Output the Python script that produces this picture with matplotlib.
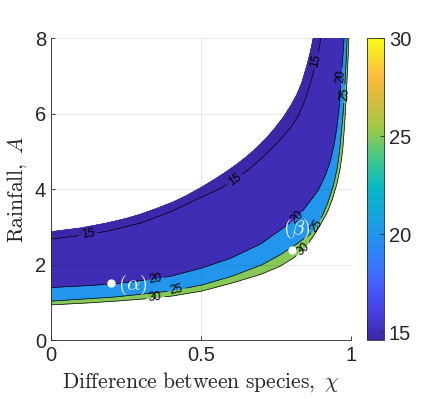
import numpy as np
import matplotlib
matplotlib.use("Agg")
import matplotlib.pyplot as plt
from matplotlib.colors import LinearSegmentedColormap, Normalize
from matplotlib.cm import ScalarMappable

# ---------------- data ----------------
# upper edge of the defined region
top_chi = [0.0, 0.10, 0.186, 0.25, 0.297, 0.35, 0.408, 0.45, 0.502, 0.55, 0.586, 0.62, 0.652,
           0.685, 0.719, 0.745, 0.774, 0.80, 0.819, 0.835, 0.852, 0.864, 0.874]
top_A   = [2.87, 2.97, 3.10, 3.22, 3.33, 3.48, 3.66, 3.82, 4.05, 4.28, 4.47, 4.66, 4.86,
           5.09, 5.36, 5.60, 5.90, 6.22, 6.50, 6.80, 7.25, 7.62, 8.0]

# contour level 15
c15_chi = [0.0, 0.124, 0.20, 0.30, 0.40, 0.50, 0.56, 0.613, 0.66, 0.70, 0.752, 0.797, 0.825,
           0.847, 0.865, 0.878, 0.891, 0.90]
c15_A   = [2.67, 2.80, 2.90, 3.10, 3.40, 3.78, 3.99, 4.24, 4.52, 4.80, 5.20, 5.60, 5.95,
           6.35, 6.80, 7.20, 7.62, 8.0]

# contour level 20
c20_chi = [0.0, 0.10, 0.20, 0.30, 0.40, 0.50, 0.60, 0.70, 0.763, 0.80, 0.82, 0.841, 0.866, 0.891, 0.913,
           0.93, 0.942, 0.952, 0.96, 0.967, 0.972, 0.977]
c20_A   = [1.39, 1.43, 1.48, 1.57, 1.69, 1.90, 2.17, 2.55, 2.91, 3.12, 3.25, 3.44, 3.70, 3.97, 4.33,
           4.70, 5.10, 5.56, 6.10, 6.89, 7.40, 8.0]

# contour level 25
c25_chi = [0.0, 0.10, 0.20, 0.30, 0.40, 0.50, 0.60, 0.70, 0.763, 0.82, 0.863, 0.886, 0.905, 0.922,
           0.94, 0.953, 0.962, 0.968, 0.975, 0.98, 0.984, 0.987]
c25_A   = [1.03, 1.08, 1.13, 1.21, 1.30, 1.45, 1.68, 1.98, 2.25, 2.55, 2.80, 3.02, 3.30, 3.62,
           4.05, 4.50, 5.00, 5.50, 6.10, 6.80, 7.40, 8.0]

# contour level 30 (lower edge of the defined region)
c30_chi = [0.0, 0.10, 0.20, 0.30, 0.40, 0.50, 0.60, 0.70, 0.763, 0.81, 0.845, 0.874, 0.905, 0.922,
           0.936, 0.952, 0.963, 0.972, 0.977, 0.982, 0.986, 0.99, 0.993]
c30_A   = [0.93, 0.97, 1.02, 1.08, 1.16, 1.29, 1.50, 1.74, 1.95, 2.18, 2.42, 2.74, 3.15, 3.40,
           3.68, 4.10, 4.50, 5.00, 5.50, 6.10, 6.80, 7.40, 8.0]

levels = [15, 20, 25, 30]
z_min, z_max = 14.6, 30.0

# marked points
pt_names = [r'$(\alpha)$', r'$(\beta)$']
pt_chi = [0.20, 0.802]
pt_A = [1.50, 2.38]

# ---------------- parula-like colormap ----------------
parula_anchors = [
    (0.00, (0.2422, 0.1504, 0.6603)),
    (0.10, (0.2780, 0.2560, 0.8950)),
    (0.20, (0.2650, 0.4000, 0.9930)),
    (0.30, (0.1650, 0.5360, 0.9700)),
    (0.40, (0.1000, 0.6350, 0.8800)),
    (0.50, (0.0200, 0.7200, 0.7800)),
    (0.60, (0.2500, 0.7800, 0.5500)),
    (0.70, (0.6200, 0.7900, 0.2700)),
    (0.80, (0.8500, 0.7400, 0.2300)),
    (0.875, (0.9900, 0.7300, 0.2500)),
    (0.95, (0.9700, 0.8900, 0.1500)),
    (1.00, (0.9769, 0.9839, 0.0805)),
]
cmap = LinearSegmentedColormap.from_list("parula", parula_anchors, N=256)
norm = Normalize(vmin=z_min, vmax=z_max)

plt.rcParams['font.family'] = ['Liberation Sans', 'DejaVu Sans']
plt.rcParams['mathtext.fontset'] = 'cm'

fig = plt.figure(figsize=(4.43, 3.99), dpi=100)
ax = fig.add_axes([51/443, 59/399, 300/443, 302/399])
cax = fig.add_axes([367/443, 59/399, 17/443, 302/399])

ax.set_xlim(0, 1)
ax.set_ylim(0, 8)

curves = {15: (c15_chi, c15_A), 20: (c20_chi, c20_A), 25: (c25_chi, c25_A), 30: (c30_chi, c30_A)}
fill_vals = {30: 25, 25: 20, 20: 15, 15: z_min}

for lev in [30, 25, 20, 15]:
    cx, cy = curves[lev]
    px = list(cx) + list(top_chi[::-1])
    py = list(cy) + list(top_A[::-1])
    col = cmap(norm(fill_vals[lev]))
    ax.fill(px, py, color=col, lw=0.3, ec=col, zorder=1)

# inline labels (positions along each contour, in chi)
label_pos = {15: [0.124, 0.613, 0.884], 20: [0.347, 0.819, 0.968],
             25: [0.419, 0.886, 0.978], 30: [0.347, 0.841]}
label_fs = 8.5
fig.canvas.draw()
for lev in levels:
    cx = np.asarray(curves[lev][0], float)
    cy = np.asarray(curves[lev][1], float)
    # subdivide each straight segment only for drawing, so gaps can be cut
    sx, sy = [], []
    for i in range(len(cx) - 1):
        t = np.linspace(0, 1, 30, endpoint=False)
        sx.extend(cx[i] + t * (cx[i + 1] - cx[i]))
        sy.extend(cy[i] + t * (cy[i + 1] - cy[i]))
    sx.append(cx[-1]); sy.append(cy[-1])
    sx = np.array(sx); sy = np.array(sy)
    disp = ax.transData.transform(np.column_stack([sx, sy]))
    mask = np.zeros(len(sx), bool)
    for x0 in label_pos[lev]:
        y0 = np.interp(x0, cx, cy)
        c0 = ax.transData.transform((x0, y0))
        r = len(str(lev)) * 0.6 * label_fs * 100 / 72 / 2 + 2
        mask |= np.hypot(disp[:, 0] - c0[0], disp[:, 1] - c0[1]) < r
        d = 0.006
        p1 = ax.transData.transform((x0 - d, np.interp(x0 - d, cx, cy)))
        p2 = ax.transData.transform((x0 + d, np.interp(x0 + d, cx, cy)))
        ang = np.degrees(np.arctan2(p2[1] - p1[1], p2[0] - p1[0]))
        ax.text(x0, y0, str(lev), rotation=ang, rotation_mode='anchor',
                ha='center', va='center', fontsize=label_fs, color='black', zorder=3)
    sy_m = sy.copy()
    sy_m[mask] = np.nan
    ax.plot(sx, sy_m, color='black', lw=0.5, zorder=2)

# marked points
ax.plot(pt_chi, pt_A, 'o', color='white', ms=6, mec='none', zorder=4)
ax.text(pt_chi[0] + 0.025, pt_A[0] - 0.05, pt_names[0], color='white', fontsize=15,
        ha='left', va='center', zorder=4)
ax.text(pt_chi[1] + 0.017, pt_A[1] + 0.55, pt_names[1], color='white', fontsize=15,
        ha='center', va='center', zorder=4)

# axes styling
ax.set_xticks([0, 0.5, 1])
ax.set_xticklabels(['0', '0.5', '1'])
ax.set_yticks([0, 2, 4, 6, 8])
ax.grid(True, color='#262626', alpha=0.12, lw=0.6)
ax.set_axisbelow(False)
for s in ['top', 'right']:
    ax.spines[s].set_visible(False)
for s in ['left', 'bottom']:
    ax.spines[s].set_color('#262626')
    ax.spines[s].set_linewidth(0.6)
    ax.spines[s].set_zorder(5)
ax.tick_params(direction='in', length=3, width=0.6, colors='#262626',
               labelsize=14.5, labelcolor='#262626')
ax.tick_params(axis='x', pad=4)
ax.set_xlabel(r'$\mathrm{Difference\ between\ species,}\ \chi$', fontsize=15.5,
              color='#262626', labelpad=4)
ax.set_ylabel(r'$\mathrm{Rainfall,}\ A$', fontsize=15.5, color='#262626', labelpad=4)

sm = ScalarMappable(norm=norm, cmap=cmap)
cb = fig.colorbar(sm, cax=cax, ticks=levels)
cb.outline.set_edgecolor('#262626')
cb.outline.set_linewidth(0.6)
cax.tick_params(direction='in', length=3, width=0.6, colors='#262626',
                labelsize=14.5, labelcolor='#262626')

fig.savefig('out.png', dpi=100)
